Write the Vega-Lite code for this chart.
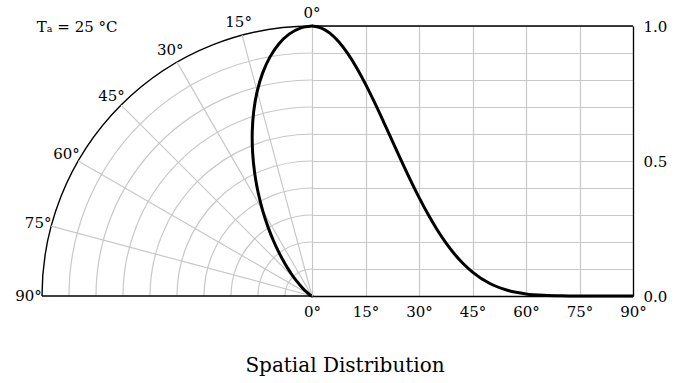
{
  "$schema": "https://vega.github.io/schema/vega-lite/v6.json",
  "background": "white",
  "autosize": {"type": "pad"},
  "padding": {"left": 15, "top": 5, "right": 5, "bottom": 5},
  "bounds": "flush",
  "spacing": 0,
  "config": {
    "font": "DejaVu Serif",
    "view": {"stroke": null},
    "axis": {
      "labelFont": "DejaVu Serif",
      "labelFontSize": 15,
      "labelColor": "black",
      "ticks": false,
      "domainColor": "black",
      "domainWidth": 1.3,
      "gridColor": "#c8c8c8",
      "gridWidth": 1.2,
      "labelOverlap": false
    }
  },
  "title": {
    "text": "Spatial Distribution",
    "orient": "bottom",
    "anchor": "middle",
    "font": "DejaVu Serif",
    "fontSize": 20,
    "fontWeight": "normal",
    "color": "black",
    "offset": 37,
    "dx": 4
  },
  "datasets": {
    "curve": [
      {"angle": 0, "intensity": 1},
      {"angle": 2.5, "intensity": 0.9934},
      {"angle": 5, "intensity": 0.9737},
      {"angle": 7.5, "intensity": 0.9416},
      {"angle": 10, "intensity": 0.8984},
      {"angle": 12.5, "intensity": 0.8454},
      {"angle": 15, "intensity": 0.7845},
      {"angle": 17.5, "intensity": 0.7177},
      {"angle": 20, "intensity": 0.647},
      {"angle": 22.5, "intensity": 0.5745},
      {"angle": 25, "intensity": 0.5023},
      {"angle": 27.5, "intensity": 0.432},
      {"angle": 30, "intensity": 0.3653},
      {"angle": 32.5, "intensity": 0.3035},
      {"angle": 35, "intensity": 0.2475},
      {"angle": 37.5, "intensity": 0.1978},
      {"angle": 40, "intensity": 0.1548},
      {"angle": 42.5, "intensity": 0.1184},
      {"angle": 45, "intensity": 0.0884},
      {"angle": 50, "intensity": 0.0453},
      {"angle": 55, "intensity": 0.0204},
      {"angle": 60, "intensity": 0.0078},
      {"angle": 65, "intensity": 0.0024},
      {"angle": 70, "intensity": 0.0005},
      {"angle": 75, "intensity": 0.0001},
      {"angle": 80, "intensity": 0},
      {"angle": 85, "intensity": 0},
      {"angle": 90, "intensity": 0}
    ],
    "polar": [
      {"order": 0, "x": 0, "y": 1},
      {"order": 1, "x": -0.0433, "y": 0.9924},
      {"order": 2, "x": -0.0849, "y": 0.97},
      {"order": 3, "x": -0.1229, "y": 0.9336},
      {"order": 4, "x": -0.156, "y": 0.8847},
      {"order": 5, "x": -0.183, "y": 0.8254},
      {"order": 6, "x": -0.2031, "y": 0.7578},
      {"order": 7, "x": -0.2158, "y": 0.6845},
      {"order": 8, "x": -0.2213, "y": 0.608},
      {"order": 9, "x": -0.2199, "y": 0.5308},
      {"order": 10, "x": -0.2123, "y": 0.4552},
      {"order": 11, "x": -0.1995, "y": 0.3832},
      {"order": 12, "x": -0.1827, "y": 0.3164},
      {"order": 13, "x": -0.1631, "y": 0.256},
      {"order": 14, "x": -0.142, "y": 0.2027},
      {"order": 15, "x": -0.1204, "y": 0.1569},
      {"order": 16, "x": -0.0995, "y": 0.1186},
      {"order": 17, "x": -0.08, "y": 0.0873},
      {"order": 18, "x": -0.0625, "y": 0.0625},
      {"order": 19, "x": -0.0347, "y": 0.0291},
      {"order": 20, "x": -0.0167, "y": 0.0117},
      {"order": 21, "x": -0.0068, "y": 0.0039},
      {"order": 22, "x": -0.0022, "y": 0.001},
      {"order": 23, "x": 0, "y": 0}
    ]
  },
  "hconcat": [
    {
      "width": 270,
      "height": 270,
      "layer": [
        {
          "data": {"values": [{"r": 0.1}, {"r": 0.2}, {"r": 0.3}, {"r": 0.4}, {"r": 0.5}, {"r": 0.6}, {"r": 0.7}, {"r": 0.8}, {"r": 0.9}, {"r": 1.0}]},
          "mark": {"type": "arc", "filled": false, "theta": -1.5707963, "theta2": 0},
          "encoding": {
            "x": {"datum": 0, "type": "quantitative", "scale": {"domain": [-1, 0], "nice": false, "zero": false}, "axis": null},
            "y": {"datum": 0, "type": "quantitative", "scale": {"domain": [0, 1], "nice": false}, "axis": null},
            "radius": {"field": "r", "type": "quantitative", "scale": {"type": "linear", "domain": [0, 1], "range": [0, 270]}},
            "radius2": {"field": "r"},
            "stroke": {"condition": {"test": "datum.r >= 1", "value": "black"}, "value": "#c8c8c8"},
            "strokeWidth": {"condition": {"test": "datum.r >= 1", "value": 1.4}, "value": 1.2}
          }
        },
        {
          "data": {"values": [{"angle": 15}, {"angle": 30}, {"angle": 45}, {"angle": 60}, {"angle": 75}]},
          "mark": {"type": "arc", "filled": false, "stroke": "#c8c8c8", "strokeWidth": 1.2},
          "encoding": {
            "x": {"datum": 0, "type": "quantitative", "scale": {"domain": [-1, 0], "nice": false, "zero": false}, "axis": null},
            "y": {"datum": 0, "type": "quantitative", "scale": {"domain": [0, 1], "nice": false}, "axis": null},
            "theta": {"field": "angle", "type": "quantitative", "stack": null, "scale": {"type": "linear", "domain": [0, 360], "range": [0, -6.2831853]}},
            "theta2": {"field": "angle"},
            "radius": {"datum": 1, "type": "quantitative", "scale": {"type": "linear", "domain": [0, 1], "range": [0, 270]}},
            "radius2": {"datum": 0}
          }
        },
        {
          "data": {"values": [{}]},
          "mark": {"type": "rule", "color": "black", "strokeWidth": 1.3},
          "encoding": {
            "y": {"datum": 0, "type": "quantitative", "scale": {"domain": [0, 1], "nice": false}, "axis": null}
          }
        },
        {
          "data": {"name": "polar"},
          "mark": {"type": "line", "color": "black", "strokeWidth": 3, "interpolate": "cardinal", "strokeCap": "round"},
          "encoding": {
            "x": {"field": "x", "type": "quantitative", "scale": {"domain": [-1, 0], "nice": false, "zero": false}, "axis": null},
            "y": {"field": "y", "type": "quantitative", "scale": {"domain": [0, 1], "nice": false}, "axis": null},
            "order": {"field": "order", "type": "quantitative"}
          }
        },
        {
          "data": {"values": [{"angle": 0, "label": "0°"}, {"angle": 15, "label": "15°"}, {"angle": 30, "label": "30°"}, {"angle": 45, "label": "45°"}, {"angle": 60, "label": "60°"}, {"angle": 75, "label": "75°"}, {"angle": 90, "label": "90°"}]},
          "mark": {"type": "text", "fontSize": 15, "align": "center", "baseline": "middle", "color": "black"},
          "encoding": {
            "x": {"datum": 0, "type": "quantitative", "scale": {"domain": [-1, 0], "nice": false, "zero": false}, "axis": null},
            "y": {"datum": 0, "type": "quantitative", "scale": {"domain": [0, 1], "nice": false}, "axis": null},
            "theta": {"field": "angle", "type": "quantitative", "stack": null, "scale": {"type": "linear", "domain": [0, 360], "range": [0, -6.2831853]}},
            "radius": {"datum": 1.05, "type": "quantitative", "scale": {"type": "linear", "domain": [0, 1], "range": [0, 270]}},
            "text": {"field": "label"}
          }
        },
        {
          "data": {"values": [{"t": "Tₐ = 25 °C"}]},
          "mark": {"type": "text", "fontSize": 15, "align": "center", "baseline": "middle", "color": "black"},
          "encoding": {
            "x": {"datum": -0.87, "type": "quantitative", "scale": {"domain": [-1, 0], "nice": false, "zero": false}, "axis": null},
            "y": {"datum": 0.997, "type": "quantitative", "scale": {"domain": [0, 1], "nice": false}, "axis": null},
            "text": {"field": "t"}
          }
        }
      ]
    },
    {
      "width": 321,
      "height": 270,
      "resolve": {"axis": {"y": "independent"}},
      "layer": [
        {
          "data": {"name": "curve"},
          "mark": {"type": "line", "color": "black", "strokeWidth": 3, "interpolate": "monotone"},
          "encoding": {
            "x": {
              "field": "angle", "type": "quantitative",
              "scale": {"domain": [0, 90], "nice": false, "zero": false},
              "axis": {"values": [0, 15, 30, 45, 60, 75, 90], "labelExpr": "datum.value + '°'", "grid": true, "title": null, "labelPadding": 8, "labelFlush": false}
            },
            "y": {
              "field": "intensity", "type": "quantitative",
              "scale": {"domain": [0, 1], "nice": false},
              "axis": {"orient": "right", "values": [0, 0.1, 0.2, 0.3, 0.4, 0.5, 0.6, 0.7, 0.8, 0.9, 1], "labelExpr": "datum.value == 0 || datum.value == 0.5 || datum.value == 1 ? format(datum.value, '.1f') : ''", "grid": true, "title": null, "labelPadding": 10, "labelFlush": false}
            }
          }
        },
        {
          "data": {"values": [{}]},
          "mark": {"type": "rule", "color": "black", "strokeWidth": 1.3},
          "encoding": {
            "y": {"datum": 1, "type": "quantitative", "scale": {"domain": [0, 1], "nice": false}, "axis": null}
          }
        }
      ]
    }
  ]
}
